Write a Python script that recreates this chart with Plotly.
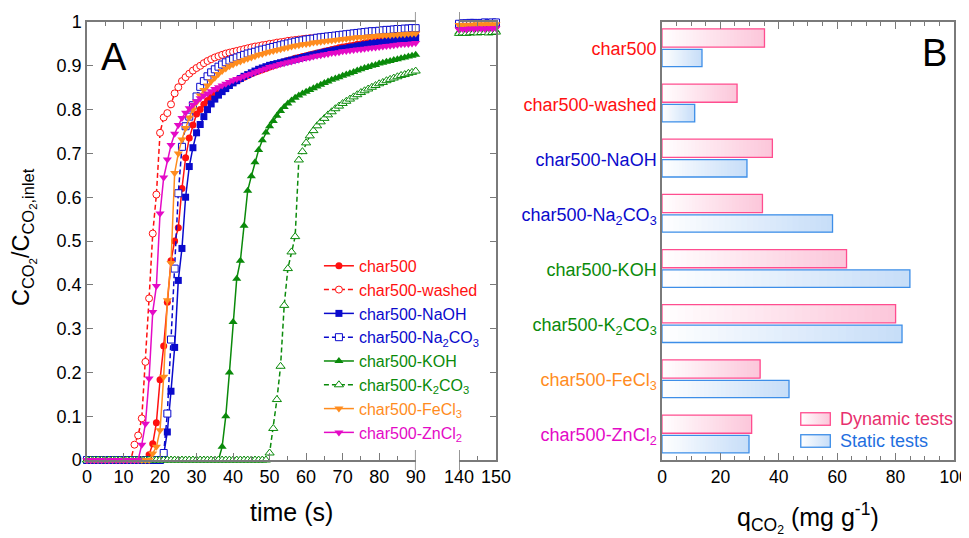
import base64
import plotly.graph_objects as go

# ---------------- Panel A data (breakthrough curves) ----------------
time_s = list(range(0, 91))
time_tail = list(range(140, 151))

char500 = [0.0] * 17 + [
    0.012, 0.037, 0.085, 0.183, 0.26, 0.36, 0.455, 0.50, 0.53, 0.62,
    0.69, 0.735, 0.765, 0.79, 0.80, 0.812, 0.821, 0.829, 0.836, 0.842,
    0.848, 0.853, 0.858, 0.862, 0.866, 0.870, 0.874, 0.878, 0.882, 0.885,
    0.888, 0.891, 0.894, 0.897, 0.900, 0.903, 0.906, 0.909, 0.912, 0.914,
    0.917, 0.919, 0.921, 0.923, 0.925, 0.927, 0.929, 0.931, 0.933, 0.935,
    0.937, 0.939, 0.941, 0.943, 0.944, 0.946, 0.947, 0.949, 0.950, 0.952,
    0.953, 0.955, 0.956, 0.958, 0.959, 0.960, 0.961, 0.963, 0.964, 0.965,
    0.966, 0.967, 0.968, 0.969]

char500_washed = [0.0] * 13 + [
    0.035, 0.056, 0.095, 0.224, 0.369, 0.517, 0.606, 0.747, 0.782, 0.792,
    0.812, 0.837, 0.851, 0.865, 0.874, 0.882, 0.889, 0.895, 0.900, 0.906,
    0.911, 0.915, 0.919, 0.922, 0.925, 0.928, 0.930, 0.932, 0.934, 0.936,
    0.938, 0.940, 0.942, 0.944, 0.945, 0.947, 0.948, 0.950, 0.951, 0.953,
    0.954, 0.955, 0.957, 0.958, 0.959, 0.960, 0.961, 0.962, 0.963, 0.963,
    0.964, 0.965, 0.966, 0.966, 0.967, 0.968, 0.968, 0.969, 0.969, 0.970,
    0.970, 0.971, 0.971, 0.972, 0.972, 0.973, 0.973, 0.974, 0.974, 0.975,
    0.975, 0.975, 0.976, 0.976, 0.977, 0.977, 0.977, 0.978]

char500_naoh = [0.0] * 21 + [
    0.012, 0.064, 0.157, 0.257, 0.41, 0.483, 0.60, 0.67, 0.713, 0.747,
    0.766, 0.784, 0.80, 0.813, 0.824, 0.833, 0.841, 0.848, 0.855, 0.861,
    0.866, 0.871, 0.876, 0.880, 0.884, 0.888, 0.892, 0.895, 0.898, 0.901,
    0.903, 0.905, 0.907, 0.909, 0.911, 0.913, 0.915, 0.917, 0.919, 0.921,
    0.923, 0.925, 0.927, 0.929, 0.931, 0.933, 0.934, 0.936, 0.937, 0.939,
    0.940, 0.942, 0.943, 0.945, 0.946, 0.948, 0.949, 0.951, 0.952, 0.953,
    0.954, 0.956, 0.957, 0.958, 0.959, 0.960, 0.961, 0.962, 0.963, 0.964]

char500_na2co3 = [0.0] * 21 + [
    0.016, 0.106, 0.275, 0.437, 0.609, 0.715, 0.762, 0.784, 0.81, 0.83,
    0.852, 0.865, 0.876, 0.885, 0.892, 0.898, 0.903, 0.908, 0.912, 0.916,
    0.919, 0.922, 0.925, 0.928, 0.930, 0.932, 0.935, 0.937, 0.939, 0.941,
    0.943, 0.945, 0.947, 0.949, 0.951, 0.953, 0.955, 0.957, 0.958, 0.960,
    0.961, 0.962, 0.964, 0.965, 0.966, 0.967, 0.968, 0.969, 0.970, 0.971,
    0.972, 0.973, 0.974, 0.975, 0.976, 0.977, 0.978, 0.979, 0.979, 0.980,
    0.981, 0.982, 0.982, 0.983, 0.984, 0.984, 0.985, 0.985, 0.986, 0.986]

char500_koh = [0.0] * 37 + [
    0.03, 0.10, 0.20, 0.315, 0.414, 0.455, 0.535, 0.615, 0.648, 0.68,
    0.708, 0.73, 0.748, 0.762, 0.774, 0.786, 0.797, 0.806, 0.814, 0.821,
    0.827, 0.832, 0.837, 0.841, 0.845, 0.849, 0.853, 0.857, 0.861, 0.864,
    0.868, 0.871, 0.874, 0.877, 0.880, 0.883, 0.886, 0.889, 0.892, 0.895,
    0.897, 0.900, 0.902, 0.905, 0.907, 0.909, 0.911, 0.913, 0.915, 0.917,
    0.919, 0.921, 0.923, 0.925]

char500_k2co3 = [0.0] * 50 + [
    0.016, 0.072, 0.138, 0.214, 0.353, 0.437, 0.475, 0.51, 0.685, 0.704,
    0.724, 0.74, 0.752, 0.763, 0.772, 0.78, 0.788, 0.795, 0.802, 0.808,
    0.814, 0.819, 0.824, 0.829, 0.834, 0.839, 0.843, 0.847, 0.851, 0.855,
    0.859, 0.862, 0.866, 0.869, 0.872, 0.875, 0.878, 0.88, 0.883, 0.885,
    0.888]

char500_fecl3 = [0.0] * 18 + [
    0.015, 0.03, 0.068, 0.19, 0.365, 0.45, 0.655, 0.70, 0.732, 0.758,
    0.782, 0.80, 0.817, 0.832, 0.845, 0.855, 0.865, 0.873, 0.881, 0.888,
    0.894, 0.899, 0.903, 0.907, 0.910, 0.913, 0.916, 0.919, 0.922, 0.925,
    0.927, 0.930, 0.932, 0.934, 0.936, 0.938, 0.940, 0.942, 0.944, 0.946,
    0.947, 0.949, 0.950, 0.951, 0.953, 0.954, 0.955, 0.956, 0.957, 0.958,
    0.959, 0.960, 0.961, 0.962, 0.963, 0.964, 0.965, 0.965, 0.966, 0.967,
    0.967, 0.968, 0.969, 0.969, 0.970, 0.970, 0.971, 0.971, 0.972, 0.972,
    0.973, 0.973, 0.974]

char500_zncl2 = [0.0] * 15 + [
    0.035, 0.083, 0.186, 0.338, 0.397, 0.563, 0.645, 0.686, 0.719, 0.745,
    0.765, 0.781, 0.793, 0.803, 0.811, 0.819, 0.826, 0.832, 0.837, 0.842,
    0.847, 0.851, 0.855, 0.859, 0.863, 0.867, 0.870, 0.873, 0.876, 0.879,
    0.882, 0.885, 0.888, 0.891, 0.894, 0.897, 0.899, 0.901, 0.904, 0.906,
    0.908, 0.910, 0.912, 0.914, 0.916, 0.918, 0.919, 0.921, 0.923, 0.924,
    0.926, 0.927, 0.929, 0.930, 0.931, 0.933, 0.934, 0.935, 0.936, 0.937,
    0.938, 0.939, 0.940, 0.941, 0.942, 0.943, 0.944, 0.945, 0.946, 0.947,
    0.948, 0.949, 0.950, 0.950, 0.951, 0.952]

# values on the 140-150 s segment of the broken axis
tail_char500 = [0.988, 0.989, 0.989, 0.990, 0.990, 0.989, 0.990, 0.991, 0.990, 0.991, 0.991]
tail_washed = [0.990, 0.991, 0.991, 0.992, 0.991, 0.992, 0.992, 0.993, 0.992, 0.993, 0.993]
tail_naoh = [0.993, 0.994, 0.994, 0.995, 0.995, 0.994, 0.995, 0.996, 0.995, 0.996, 0.996]
tail_na2co3 = [0.996, 0.997, 0.997, 0.998, 0.998, 0.997, 0.998, 0.999, 0.998, 0.999, 0.999]
tail_koh = [0.977, 0.978, 0.977, 0.978, 0.979, 0.978, 0.979, 0.979, 0.978, 0.979, 0.980]
tail_k2co3 = [0.974, 0.975, 0.974, 0.975, 0.976, 0.975, 0.976, 0.976, 0.975, 0.976, 0.977]
tail_fecl3 = [0.993, 0.994, 0.993, 0.994, 0.994, 0.995, 0.994, 0.995, 0.995, 0.994, 0.995]
tail_zncl2 = [0.983, 0.984, 0.983, 0.985, 0.984, 0.985, 0.985, 0.984, 0.986, 0.985, 0.986]

series_names = ["char500", "char500-washed", "char500-NaOH", "char500-Na<sub>2</sub>CO<sub>3</sub>",
                "char500-KOH", "char500-K<sub>2</sub>CO<sub>3</sub>", "char500-FeCl<sub>3</sub>",
                "char500-ZnCl<sub>2</sub>"]
series_values = [char500, char500_washed, char500_naoh, char500_na2co3,
                 char500_koh, char500_k2co3, char500_fecl3, char500_zncl2]
series_tails = [tail_char500, tail_washed, tail_naoh, tail_na2co3,
                tail_koh, tail_k2co3, tail_fecl3, tail_zncl2]

# ---------------- Panel B data (CO2 uptake) ----------------
categories = ["char500", "char500-washed", "char500-NaOH", "char500-Na2CO3",
              "char500-KOH", "char500-K2CO3", "char500-FeCl3", "char500-ZnCl2"]
dynamic_q = [35.1, 25.7, 37.8, 34.4, 63.2, 80.0, 33.6, 30.7]
static_q = [13.7, 11.2, 29.1, 58.4, 84.9, 82.2, 43.5, 29.8]
legend_b_names = ["Dynamic tests", "Static tests"]

# ---------------- styles ----------------
RED = "#FF1010"
BLUE = "#0A0ACC"
GREEN = "#0A8A0A"
ORANGE = "#FF8C1E"
MAGENTA = "#E40AC6"
series_colors = [RED, RED, BLUE, BLUE, GREEN, GREEN, ORANGE, MAGENTA]
series_symbols = ["circle", "circle", "square", "square", "triangle-up", "triangle-up",
                  "triangle-down", "triangle-down"]
series_hollow = [False, True, False, True, False, True, False, False]
FONT = "Liberation Sans, Arial, sans-serif"
AXIS_GRAY = "#7a7a7a"

fig = go.Figure()

for name, vals, tail, col, sym, hollow in zip(series_names, series_values, series_tails,
                                              series_colors, series_symbols, series_hollow):
    size = 8 if "triangle" in sym else 7
    marker = dict(symbol=sym, size=size,
                  color="white" if hollow else col,
                  line=dict(color=col, width=1 if hollow else 0))
    line = dict(color=col, width=1.5, dash="5px,3px" if hollow else "solid")
    fig.add_trace(go.Scatter(
        x=time_s, y=vals, mode="lines+markers", marker=marker, line=line,
        name=f"<span style='color:{col}'>{name}</span>", legend="legend",
        cliponaxis=False, xaxis="x", yaxis="y"))
    fig.add_trace(go.Scatter(
        x=time_tail, y=tail, mode="lines+markers", marker=marker, line=line,
        showlegend=False, cliponaxis=False, xaxis="x2", yaxis="y2"))

# ---------------- Panel B bars with gradient ----------------
N_SEG = 30
DYN_END = (252, 198, 218)
STA_END = (198, 221, 248)
DYN_LINE = "#FF4D8F"
STA_LINE = "#3D8EE8"
DYN_TEXT = "#E8306E"
STA_TEXT = "#1F6FE0"


def mix(c, f):
    return "rgb(%d,%d,%d)" % tuple(round(255 + (ci - 255) * f) for ci in c)


for vals, end, off, wid in [(dynamic_q, DYN_END, -0.365, 0.33), (static_q, STA_END, 0.005, 0.315)]:
    for k in range(N_SEG):
        fig.add_trace(go.Bar(
            x=[v * (1 - k / N_SEG) for v in vals], base=[v * k / N_SEG for v in vals],
            y=categories, orientation="h", offset=off, width=wid,
            marker=dict(color=mix(end, (k + 0.5) / N_SEG), line=dict(width=0)),
            showlegend=False, hoverinfo="skip", xaxis="x3", yaxis="y3"))

for vals, lcol, off, wid in [(dynamic_q, DYN_LINE, -0.365, 0.33), (static_q, STA_LINE, 0.005, 0.315)]:
    fig.add_trace(go.Bar(
        x=vals, y=categories, orientation="h", offset=off, width=wid,
        marker=dict(color="rgba(0,0,0,0)", line=dict(color=lcol, width=1.3)),
        showlegend=False, xaxis="x3", yaxis="y3"))

label_colors = [RED, RED, BLUE, BLUE, GREEN, GREEN, ORANGE, MAGENTA]
label_text = ["char500", "char500-washed", "char500-NaOH", "char500-Na<sub>2</sub>CO<sub>3</sub>",
              "char500-KOH", "char500-K<sub>2</sub>CO<sub>3</sub>", "char500-FeCl<sub>3</sub>",
              "char500-ZnCl<sub>2</sub>"]
ticktext_b = [f"<span style='color:{c}'>{t}</span>" for c, t in zip(label_colors, label_text)]

axis_base = dict(showgrid=False, zeroline=False, showline=True, linecolor=AXIS_GRAY,
                 linewidth=1.5, tickcolor=AXIS_GRAY, ticks="inside", automargin=False,
                 ticklabeloverflow="allow")
axis_common = dict(axis_base, tickfont=dict(size=18, color="black", family=FONT))

# The page body keeps its default 8px margin, so the figure is 8px smaller
# and its margins 8px narrower on the left/top.
fig.update_layout(
    width=961, height=530,
    margin=dict(l=79, r=15, t=14, b=78, autoexpand=False),
    paper_bgcolor="white", plot_bgcolor="white",
    font=dict(family=FONT, color="black"),
    barmode="overlay",
    xaxis=dict(domain=[0, 0.3791], range=[0, 90], anchor="y", tickmode="array",
               tickvals=list(range(0, 91, 10)), ticklen=7, mirror="ticks",
               minor=dict(dtick=5, ticklen=4, ticks="inside", tickcolor=AXIS_GRAY),
               **axis_common),
    xaxis2=dict(domain=[0.4291, 0.4717], range=[140, 150], anchor="y2", tickmode="array",
                tickvals=[140, 150], ticklen=7, mirror="ticks",
                minor=dict(dtick=5, ticklen=4, ticks="inside", tickcolor=AXIS_GRAY),
                **axis_common),
    yaxis=dict(domain=[0, 1], range=[0, 1], anchor="x", tickvals=[i / 10 for i in range(11)],
               ticktext=["0", "0.1", "0.2", "0.3", "0.4", "0.5", "0.6", "0.7", "0.8", "0.9", "1"],
               ticklen=6, **axis_common),
    yaxis2=dict(domain=[0, 1], range=[0, 1], anchor="x2", side="right", showticklabels=False,
                tickvals=[i / 10 for i in range(11)], ticklen=6, **axis_common),
    xaxis3=dict(domain=[0.6632, 1.0], range=[0, 100], anchor="y3", tickvals=list(range(0, 101, 20)),
                ticklen=7, mirror="ticks",
                minor=dict(dtick=5, ticklen=4, ticks="inside", tickcolor=AXIS_GRAY),
                tickfont=dict(size=17.5, color="black", family=FONT), **axis_base),
    yaxis3=dict(domain=[0, 1], anchor="x3", type="category", categoryorder="array",
                categoryarray=categories, range=[7.45, -0.49], tickvals=categories,
                ticktext=ticktext_b, showgrid=False, zeroline=False, showline=True,
                linecolor=AXIS_GRAY, linewidth=1.5, mirror=True, ticks="", automargin=False,
                ticklabeloverflow="allow", tickfont=dict(size=18, family=FONT)),
    legend=dict(x=0.2675, y=0.482, xanchor="left", yanchor="top", bgcolor="rgba(0,0,0,0)",
                font=dict(size=16, family=FONT), itemwidth=30, tracegroupgap=0),
    showlegend=True,
)

# axis-break marks
for xr, xv in [("x", 90), ("x2", 140)]:
    for y0, y1 in [(0.977, 1.023), (-0.023, 0.023)]:
        fig.add_shape(type="line", xref=xr, yref="paper", x0=xv, x1=xv, y0=y0, y1=y1,
                      line=dict(color=AXIS_GRAY, width=1.5))


# legend of panel B: gradient swatches + coloured text
def swatch(end, stroke):
    svg = ("<svg xmlns='http://www.w3.org/2000/svg' width='62' height='28' viewBox='0 0 31 14'>"
           "<defs><linearGradient id='g' x1='0' y1='0' x2='1' y2='0'>"
           "<stop offset='0' stop-color='white'/><stop offset='1' stop-color='%s'/>"
           "</linearGradient></defs>"
           "<rect x='0.75' y='0.75' width='29.5' height='12.5' fill='url(#g)' stroke='%s' "
           "stroke-width='1.3'/></svg>") % (mix(end, 1), stroke)
    return "data:image/svg+xml;base64," + base64.b64encode(svg.encode()).decode()


for i, (nm, end, lcol, tcol) in enumerate(zip(legend_b_names, [DYN_END, STA_END],
                                             [DYN_LINE, STA_LINE], [DYN_TEXT, STA_TEXT])):
    ytop = 0.1096 - i * 0.0502
    fig.add_layout_image(source=swatch(end, lcol), xref="paper", yref="paper", x=0.8224, y=ytop,
                         sizex=0.0358, sizey=0.032, sizing="stretch", xanchor="left",
                         yanchor="top", layer="above")
    fig.add_annotation(text=nm, xref="paper", yref="paper", x=0.8662, y=ytop - 0.016,
                       xanchor="left", yanchor="middle", showarrow=False,
                       font=dict(size=18, family=FONT, color=tcol))

fig.add_annotation(text="A", xref="paper", yref="paper", x=0.014, y=0.92, xanchor="left",
                   yanchor="middle", showarrow=False, font=dict(size=38, family=FONT, color="black"))
fig.add_annotation(text="B", xref="paper", yref="paper", x=0.961, y=0.929, xanchor="left",
                   yanchor="middle", showarrow=False, font=dict(size=38, family=FONT, color="black"))
fig.add_annotation(text="time (s)", xref="paper", yref="paper", x=0.2359, y=-0.119,
                   xanchor="center", yanchor="middle", showarrow=False,
                   font=dict(size=25, family=FONT, color="black"))
fig.add_annotation(text="q<sub>CO<sub>2</sub></sub> (mg g<sup>-1</sup>)", xref="paper", yref="paper",
                   x=0.8316, y=-0.132, xanchor="center", yanchor="middle", showarrow=False,
                   font=dict(size=25, family=FONT, color="black"))
fig.add_annotation(text="C<sub>CO<sub>2</sub></sub>/C<sub>CO<sub>2</sub>,inlet</sub>", xref="paper",
                   yref="paper", x=-0.0738, y=0.509, textangle=-90, xanchor="center",
                   yanchor="middle", showarrow=False, font=dict(size=23.5, family=FONT, color="black"))

fig.write_html("out.html", config={"displayModeBar": False})
